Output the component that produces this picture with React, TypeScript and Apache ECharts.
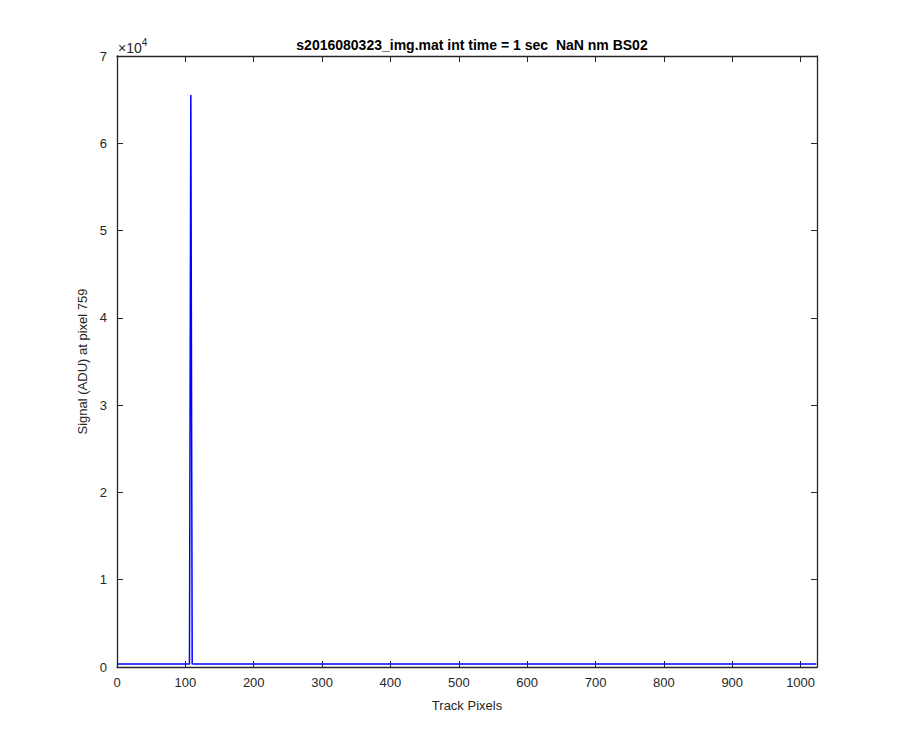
import React, { useEffect, useRef } from "react";
import * as echarts from "echarts";

const titleText = "s2016080323_img.mat int time = 1 sec  NaN nm BS02";
const xAxisName = "Track Pixels";
const yAxisName = "Signal (ADU) at pixel 759";

const pixelIndex = [
  0, 24, 48, 72, 96, 104, 106, 107, 108, 109, 110, 112, 128, 160, 192, 224, 256,
  288, 320, 352, 384, 416, 448, 480, 512, 544, 576, 608, 640, 672, 704, 736,
  768, 800, 832, 864, 896, 928, 960, 992, 1023,
];
const signalValues = [
  340, 330, 350, 335, 345, 330, 340, 360, 65535, 65535, 380, 345, 355, 350,
  340, 345, 335, 330, 340, 345, 335, 330, 345, 335, 330, 340, 335, 345, 330,
  335, 340, 335, 330, 345, 335, 330, 340, 335, 345, 330, 340,
];

const xTicksMax = 1024;
const yMax = 70000;

const AXIS_COLOR = "#262626";
const FONT = "Liberation Sans, Arial, Helvetica, sans-serif";

export default function App() {
  const ref = useRef<HTMLDivElement>(null);
  useEffect(() => {
    if (!ref.current) return;
    const chart = echarts.init(ref.current, null, { renderer: "svg" });
    const data = pixelIndex.map((p, i) => [p, signalValues[i]]);
    const axisCommon = {
      axisLine: { show: true, onZero: false, lineStyle: { color: AXIS_COLOR, width: 1.3 } },
      axisTick: { show: true, inside: true, length: 6, lineStyle: { color: AXIS_COLOR, width: 1 } },
      splitLine: { show: false },
    };
    chart.setOption({
      animation: false,
      backgroundColor: "#ffffff",
      title: {
        text: titleText,
        left: 467,
        textAlign: "center",
        top: 33,
        textStyle: { fontFamily: FONT, fontSize: 14, fontWeight: "bold", color: "#000" },
      },
      grid: { left: 117, right: 83, top: 56, bottom: 83, containLabel: false },
      xAxis: [
        {
          type: "value",
          min: 0,
          max: xTicksMax,
          interval: 100,
          position: "bottom",
          ...axisCommon,
          axisLabel: {
            color: AXIS_COLOR,
            fontFamily: FONT,
            fontSize: 13,
            margin: 9,
            showMaxLabel: false,
            formatter: (v: number) => String(v),
          },
          name: xAxisName,
          nameLocation: "middle",
          nameGap: 32,
          nameTextStyle: { color: AXIS_COLOR, fontFamily: FONT, fontSize: 13 },
        },
        {
          type: "value",
          min: 0,
          max: xTicksMax,
          interval: 100,
          position: "top",
          ...axisCommon,
          axisLabel: { show: false },
        },
      ],
      yAxis: [
        {
          type: "value",
          min: 0,
          max: yMax,
          interval: 10000,
          position: "left",
          ...axisCommon,
          axisLabel: {
            color: AXIS_COLOR,
            fontFamily: FONT,
            fontSize: 13,
            margin: 10,
            formatter: (v: number) => String(v / 10000),
          },
          name: yAxisName,
          nameLocation: "middle",
          nameGap: 21,
          nameRotate: 90,
          nameTextStyle: { color: AXIS_COLOR, fontFamily: FONT, fontSize: 13 },
        },
        {
          type: "value",
          min: 0,
          max: yMax,
          interval: 10000,
          position: "right",
          ...axisCommon,
          axisLabel: { show: false },
        },
      ],
      graphic: [
        {
          type: "text",
          left: 118,
          top: 37,
          style: {
            text: "{a|×10}{b|4}",
            rich: {
              a: { fontFamily: FONT, fontSize: 14, fill: AXIS_COLOR, verticalAlign: "bottom" },
              b: { fontFamily: FONT, fontSize: 10, fill: AXIS_COLOR, verticalAlign: "top", padding: [0, 0, 8, 0] },
            },
          },
        },
      ],
      series: [
        {
          type: "line",
          data,
          xAxisIndex: 0,
          yAxisIndex: 0,
          showSymbol: false,
          symbol: "none",
          lineStyle: { color: "#0000ff", width: 1.5 },
          itemStyle: { color: "#0000ff" },
        },
      ],
    });
    return () => chart.dispose();
  }, []);
  return (
    <div
      ref={ref}
      style={{ position: "fixed", left: 0, top: 0, width: 900, height: 750, background: "#fff" }}
    />
  );
}
